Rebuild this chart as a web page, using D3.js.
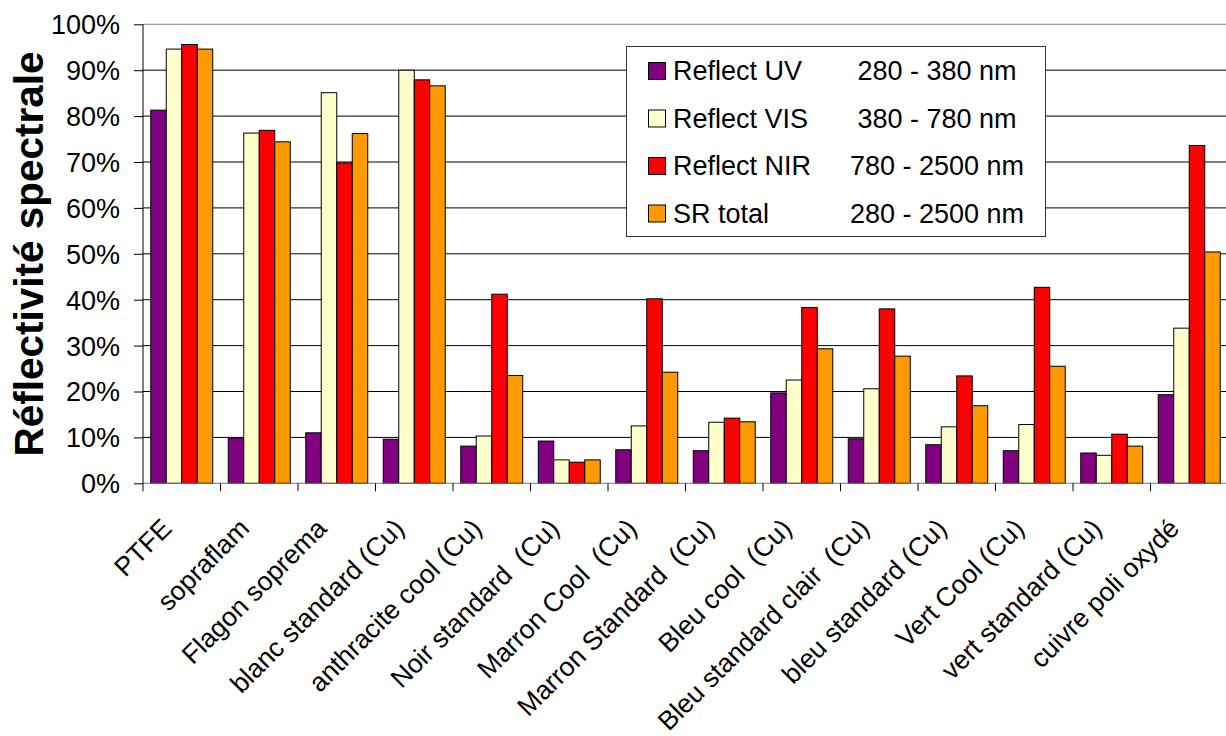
<!DOCTYPE html>
<html>
<head>
<meta charset="utf-8">
<script src="https://cdn.jsdelivr.net/npm/d3@7"></script>
<style>
  html, body { margin: 0; padding: 0; background: #fff; }
  svg { display: block; font-family: "Liberation Sans", Arial, sans-serif; }
  .xl { white-space: pre; }
</style>
</head>
<body>
<svg id="chart" width="1226" height="736"></svg>
<script>
const categories = [
  "PTFE", "sopraflam", "Flagon soprema", "blanc standard (Cu)",
  "anthracite cool (Cu)", "Noir standard  (Cu)", "Marron Cool  (Cu)",
  "Marron Standard  (Cu)", "Bleu cool  (Cu)", "Bleu standard clair  (Cu)",
  "bleu standard (Cu)", "Vert Cool (Cu)", "vert standard (Cu)", "cuivre poli oxydé"
];
const seriesNames = ["Reflect UV", "Reflect VIS", "Reflect NIR", "SR total"];
const seriesRanges = ["280 - 380 nm", "380 - 780 nm", "780 - 2500 nm", "280 - 2500 nm"];
const reflectUV  = [81.3, 9.9, 11.0, 9.6, 8.1, 9.2, 7.3, 7.1, 19.7, 9.7, 8.4, 7.1, 6.6, 19.3];
const reflectVIS = [94.6, 76.3, 85.1, 90.0, 10.3, 5.1, 12.5, 13.3, 22.5, 20.6, 12.3, 12.8, 6.1, 33.8];
const reflectNIR = [95.6, 76.9, 69.8, 87.9, 41.2, 4.6, 40.2, 14.2, 38.3, 38.0, 23.4, 42.7, 10.7, 73.6];
const srTotal    = [94.6, 74.4, 76.2, 86.6, 23.5, 5.1, 24.2, 13.4, 29.3, 27.7, 16.9, 25.5, 8.1, 50.4];
const yTicks = [0, 10, 20, 30, 40, 50, 60, 70, 80, 90, 100];
const yTitle = "Réflectivité spectrale";
const colors = ["#800080", "#FFFFCC", "#FF0000", "#FF9900"];

(function () {
const seriesValues = [reflectUV, reflectVIS, reflectNIR, srTotal];
const svg = d3.select("#chart");

const pL = 143, pR = 1228, pT = 24.3, pB = 483.3;
const x = d3.scaleBand().domain(categories).range([pL, pR]).paddingInner(0).paddingOuter(0);
const bw = x.bandwidth();
const x1 = d3.scaleBand().domain(seriesNames).range([bw * 0.1, bw * 0.9]).padding(0);
const y = d3.scaleLinear().domain([0, 100]).range([pB, pT]);

// gridlines
svg.append("g").selectAll("line").data(yTicks.filter(d => d > 0)).join("line")
  .attr("x1", pL).attr("x2", pR)
  .attr("y1", d => y(d)).attr("y2", d => y(d))
  .attr("stroke", d => d === 100 ? "#888" : "#000").attr("stroke-width", 1);

// bars
const groups = svg.append("g").selectAll("g").data(categories).join("g")
  .attr("transform", c => `translate(${x(c)},0)`);
groups.selectAll("rect").data((c, i) => seriesNames.map((s, k) => ({ s, k, v: seriesValues[k][i] })))
  .join("rect")
  .attr("x", d => x1(d.s))
  .attr("width", x1.bandwidth())
  .attr("y", d => y(d.v))
  .attr("height", d => y(0) - y(d.v))
  .attr("fill", d => colors[d.k])
  .attr("stroke", "#000").attr("stroke-width", 1);

// y axis
const yAxis = d3.axisLeft(y).tickValues(yTicks).tickFormat(d => d + "%").tickSize(9).tickPadding(14);
const ya = svg.append("g").attr("transform", `translate(${pL},0)`).call(yAxis);
ya.select(".domain").attr("stroke", "#000").attr("d", `M0,${pB}V${pT}`);
ya.selectAll(".tick line").attr("stroke", "#000");
ya.selectAll(".tick text").attr("font-size", 27).attr("font-family", "Liberation Sans, Arial, sans-serif")
  .attr("fill", "#000").attr("dy", "0.35em");

// x axis
const bounds = categories.map(c => x(c)).concat([pR]);
svg.append("line").attr("x1", pL).attr("x2", pR).attr("y1", pB).attr("y2", pB)
  .attr("stroke", "#777").attr("stroke-width", 1);
svg.append("g").selectAll("line").data(bounds).join("line")
  .attr("x1", d => d).attr("x2", d => d).attr("y1", pB).attr("y2", pB + 8)
  .attr("stroke", "#000");
svg.append("g").selectAll("text").data(categories).join("text")
  .attr("class", "xl")
  .attr("transform", c => `translate(${x(c) + bw / 2 - 8.5},${530}) rotate(-45)`)
  .attr("text-anchor", "end")
  .attr("font-size", 26.5)
  .attr("fill", "#000")
  .text(c => c);

// y title
svg.append("text")
  .attr("transform", `translate(43,254) rotate(-90)`)
  .attr("text-anchor", "middle")
  .attr("font-size", 40.5).attr("font-weight", "bold").attr("fill", "#000")
  .text(yTitle);

// legend
const lg = svg.append("g");
lg.append("rect").attr("x", 626.5).attr("y", 46.5).attr("width", 419).attr("height", 190)
  .attr("fill", "#fff").attr("stroke", "#333").attr("stroke-width", 1);
const items = lg.selectAll("g.item").data(seriesNames).join("g").attr("class", "item")
  .attr("transform", (d, i) => `translate(0,${62 + i * 47.5})`);
items.append("rect").attr("x", 648.5).attr("y", 0.5).attr("width", 17).attr("height", 17)
  .attr("fill", (d, i) => colors[i]).attr("stroke", "#000").attr("stroke-width", 1);
items.append("text").attr("x", 673).attr("y", 9).attr("dy", "0.35em")
  .attr("font-size", 27).attr("fill", "#000").text(d => d);
items.append("text").attr("x", 937).attr("y", 9).attr("dy", "0.35em")
  .attr("text-anchor", "middle")
  .attr("font-size", 27).attr("fill", "#000").text((d, i) => seriesRanges[i]);
})();
</script>
</body>
</html>
